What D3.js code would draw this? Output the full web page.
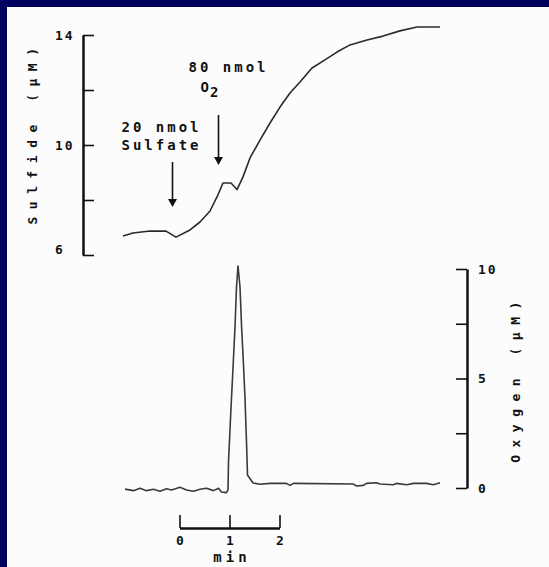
<!DOCTYPE html>
<html>
<head>
<meta charset="utf-8">
<script src="https://cdn.jsdelivr.net/npm/d3@7"></script>
<style>
body { margin: 0; background: #00005e; }
svg { display: block; }
text { font-family: "DejaVu Sans Mono", monospace; font-weight: bold; fill: #111; }
</style>
</head>
<body>
<div id="plot-container"></div>
<script>
// sulfide trace (top panel), time in min
const sulfideTime = [-1.13, -0.93, -0.59, -0.27, -0.07, 0.21, 0.41, 0.61, 0.75, 0.87, 1.03, 1.15, 1.27, 1.41, 1.61, 1.81, 2.01, 2.21, 2.41, 2.65, 2.87, 3.15, 3.41, 3.75, 4.07, 4.41, 4.75, 5.21];
const sulfideValue = [6.69, 6.80, 6.87, 6.87, 6.65, 6.91, 7.20, 7.60, 8.11, 8.62, 8.62, 8.38, 8.84, 9.53, 10.18, 10.80, 11.38, 11.89, 12.29, 12.80, 13.05, 13.38, 13.64, 13.82, 13.96, 14.15, 14.29, 14.29];

// oxygen trace (bottom panel)
const oxygenTime = [-1.09, -0.92, -0.79, -0.66, -0.52, -0.39, -0.26, -0.16, 0.01, 0.14, 0.28, 0.41, 0.54, 0.68, 0.78, 0.84, 0.94, 0.97,
    0.98, 1.03, 1.07, 1.11, 1.14, 1.17, 1.21, 1.24, 1.28, 1.31, 1.34, 1.36, 1.47,
    1.61, 1.81, 2.14, 2.21, 2.28, 3.48, 3.54, 3.68, 3.74, 3.94, 4.01, 4.27, 4.34, 4.54, 4.68, 4.94, 5.08, 5.21];
const oxygenValue = [-0.05, -0.12, -0.01, -0.12, -0.06, -0.15, -0.03, -0.09, 0.03, -0.09, -0.15, -0.06, -0.01, -0.12, -0.01, -0.18, -0.21, -0.09,
    1.19, 3.65, 5.48, 7.35, 9.18, 10.14, 9.18, 7.44, 5.62, 4.11, 2.10, 0.59, 0.23,
    0.17, 0.21, 0.21, 0.12, 0.21, 0.18, 0.09, 0.12, 0.21, 0.24, 0.18, 0.15, 0.21, 0.15, 0.21, 0.21, 0.15, 0.24];

const sulfideTicks = [6, 8, 10, 12, 14];
const sulfideTickLabels = ["6", "", "10", "", "14"];
const oxygenTicks = [0, 2.5, 5, 7.5, 10];
const oxygenTickLabels = ["0", "", "5", "", "10"];
const timeTicks = [0, 1, 2];

// additions: time of arrow, arrow top and tip in sulfide units
const additionTime = [-0.14, 0.78];
const additionTop = [9.38, 11.09];
const additionTip = [7.75, 9.27];

const width = 549, height = 567;

const svg = d3.select("#plot-container")
    .append("svg")
    .attr("width", width)
    .attr("height", height);

svg.append("rect").attr("width", width).attr("height", height).attr("fill", "#00005e");
svg.append("rect").attr("x", 7).attr("y", 7).attr("width", width - 7).attr("height", height - 7).attr("fill", "#fcfcfc");

const x = d3.scaleLinear().domain([0, 2]).range([179.5, 279.5]);
const ySul = d3.scaleLinear().domain([6, 14]).range([255, 35]);
const yOx = d3.scaleLinear().domain([0, 10]).range([488, 269]);

// sulfide axis (left)
const sulAxis = svg.append("g")
    .attr("transform", "translate(83,0)")
    .call(d3.axisLeft(ySul).tickValues(sulfideTicks).tickSizeInner(-11).tickSizeOuter(0)
        .tickFormat((d, i) => sulfideTickLabels[i]))
    .attr("font-size", 13);
sulAxis.selectAll("text").attr("text-anchor", "start").attr("x", -28).style("letter-spacing", "2px");
sulAxis.selectAll(".tick text").filter(d => d === 6).attr("dy", "-0.1em");

// oxygen axis (right)
const oxAxis = svg.append("g")
    .attr("transform", "translate(467,0)")
    .call(d3.axisRight(yOx).tickValues(oxygenTicks).tickSizeInner(-11).tickSizeOuter(0).tickPadding(11)
        .tickFormat((d, i) => oxygenTickLabels[i]))
    .attr("font-size", 13);
oxAxis.selectAll("text").style("letter-spacing", "2px");

// time scale bar
const tAxis = svg.append("g")
    .attr("transform", "translate(0,528)")
    .call(d3.axisBottom(x).tickValues(timeTicks).tickSizeInner(-13).tickSizeOuter(0).tickPadding(8)
        .tickFormat(d3.format("d")))
    .attr("font-size", 13);

[sulAxis, oxAxis, tAxis].forEach(g => {
    g.select(".domain").attr("stroke", "#111").attr("stroke-width", 2.5);
    g.selectAll(".tick line").attr("stroke", "#111").attr("stroke-width", 1.6);
});

svg.append("text")
    .attr("x", 230)
    .attr("y", 562)
    .attr("text-anchor", "middle")
    .attr("dx", 2)
    .attr("font-size", 14)
    .style("letter-spacing", "4px")
    .text("min");

// axis titles
svg.append("text")
    .attr("transform", "translate(32,136) rotate(-90)")
    .attr("text-anchor", "middle")
    .attr("dominant-baseline", "central")
    .attr("dx", 3.5)
    .attr("font-size", 13)
    .style("letter-spacing", "7.5px")
    .text("Sulfide (\u03bcM)");

svg.append("text")
    .attr("transform", "translate(515,382) rotate(-90)")
    .attr("text-anchor", "middle")
    .attr("dominant-baseline", "central")
    .attr("dx", 3.5)
    .attr("font-size", 13)
    .style("letter-spacing", "7.5px")
    .text("Oxygen (\u03bcM)");

// traces
const sulfideData = sulfideTime.map((t, i) => ({ t: t, v: sulfideValue[i] }));
const oxygenData = oxygenTime.map((t, i) => ({ t: t, v: oxygenValue[i] }));

svg.append("path")
    .datum(sulfideData)
    .attr("fill", "none")
    .attr("stroke", "#2a2a2a")
    .attr("stroke-width", 1.6)
    .attr("stroke-linejoin", "round")
    .attr("d", d3.line().x(d => x(d.t)).y(d => ySul(d.v)));

svg.append("path")
    .datum(oxygenData)
    .attr("fill", "none")
    .attr("stroke", "#3a3a3a")
    .attr("stroke-width", 1.6)
    .attr("stroke-linejoin", "round")
    .attr("d", d3.line().x(d => x(d.t)).y(d => yOx(d.v)));

// addition arrows
additionTime.forEach((t, i) => {
    const ax = x(t), top = ySul(additionTop[i]), tip = ySul(additionTip[i]);
    svg.append("line")
        .attr("x1", ax).attr("x2", ax)
        .attr("y1", top).attr("y2", tip - 5)
        .attr("stroke", "#111").attr("stroke-width", 1.6);
    svg.append("path")
        .attr("d", `M${ax - 4.5},${tip - 8}L${ax + 4.5},${tip - 8}L${ax},${tip}Z`)
        .attr("fill", "#111");
});

// addition labels
const a0 = x(additionTime[0]), a1 = x(additionTime[1]);
const labelStyle = sel => sel.attr("font-size", 14).style("letter-spacing", "3px");
svg.append("text").attr("x", a0 - 51).attr("y", 132).call(labelStyle).text("20 nmol");
svg.append("text").attr("x", a0 - 51).attr("y", 150).call(labelStyle).text("Sulfate");
svg.append("text").attr("x", a1 - 30).attr("y", 72).call(labelStyle).text("80 nmol");
const o2 = svg.append("text").attr("x", a1 - 18).attr("y", 92).attr("font-size", 14);
o2.append("tspan").text("O");
o2.append("tspan").attr("dy", 5).attr("dx", 1).text("2");
</script>
</body>
</html>
